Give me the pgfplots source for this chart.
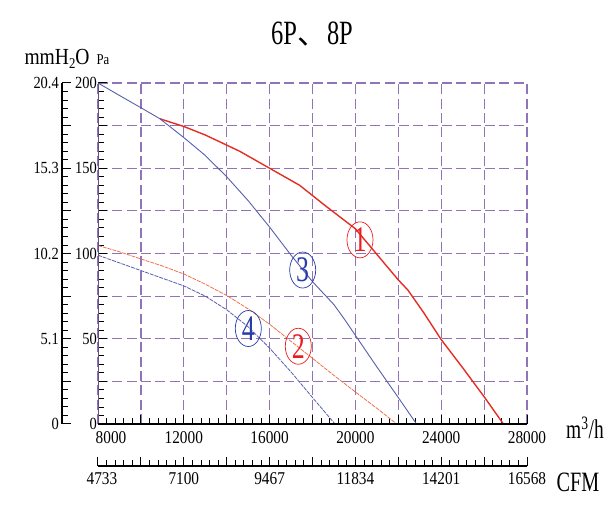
\documentclass[border=0pt]{standalone}
\usepackage{fontspec}
\setmainfont{Liberation Serif}
\newfontfamily\cnd{Liberation Serif}[FakeStretch=0.85]
\newfontfamily\cndb{Liberation Serif}[FakeStretch=0.72]
\newfontfamily\cjk{Noto Sans CJK SC}
\usepackage{pgfplots}
\pgfplotsset{compat=1.18}
\definecolor{gridpurple}{RGB}{145,115,185}
\definecolor{redA}{RGB}{228,45,35}
\definecolor{orangeB}{RGB}{238,115,75}
\definecolor{blueC}{RGB}{85,95,170}
\definecolor{lblred}{RGB}{235,30,30}
\definecolor{lblblue}{RGB}{40,60,170}
\pgfplotsset{
  mytickstyle/.style={
    tick align=inside,
    major tick length=9pt, minor tick length=6pt,
    major tick style={draw=black, line width=1pt},
    minor tick style={draw=black, line width=0.9pt},
  }
}
\begin{document}
\begin{tikzpicture}
% main axis (Pa vs m3/h)
\begin{axis}[
  at={(0pt,0pt)}, anchor=south west,
  scale only axis, width=429pt, height=341pt,
  xmin=8000, xmax=28000, ymin=0, ymax=200,
  axis line style={draw=none},
  xtick pos=left, ytick pos=left,
  xtick={8000,10000,...,28000},
  xticklabels={{\hspace*{26pt}8000},,12000,,16000,,20000,,24000,,28000},
  minor x tick num=4,
  ytick={0,25,...,200},
  yticklabels={0,,50,,100,,150,,200},
  minor y tick num=4,
  scaled x ticks=false, scaled y ticks=false,
  mytickstyle,
  grid=major,
  major grid style={gridpurple, line width=1.2pt, dash pattern=on 10pt off 4.33pt},
  xticklabel style={font=\cnd\fontsize{18}{18}\selectfont, yshift=-4pt},
  yticklabel style={font=\cnd\fontsize{17}{17}\selectfont, inner xsep=1pt},
  clip=false,
]
% curve 1
\addplot[redA, line width=1.4pt] coordinates {
(10890,179) (12000,174.5) (13000,169.5) (14600,160) (16000,150) (17400,140)
(18600,128) (20000,114.5) (21000,99.5) (22000,84.5) (22450,78.5) (23200,65)
(24000,49.5) (25000,33) (26000,16) (26900,0)};
% curve 3
\addplot[blueC, line width=0.9pt] coordinates {
(8000,200) (9000,192.7) (10000,185.5) (10890,179) (12000,168) (13000,157.5)
(14000,145) (15000,131) (16000,115.5) (17000,99) (18000,83.5) (19000,70)
(19515,61) (20000,52) (21000,33.5) (22000,15.5) (22850,0)};
% curve 2
\addplot[orangeB, line width=0.8pt, dash pattern=on 4pt off 1pt] coordinates {
(8000,104.7) (9000,101) (10000,96.8) (11000,92.7) (12000,88) (13000,82)
(14000,75.4) (15000,67.5) (16000,58.5) (17000,48.5) (18000,38.5) (19000,28.5)
(20000,18.8) (21000,9.2) (21930,0)};
% curve 4
\addplot[blueC, line width=0.8pt, dash pattern=on 4pt off 1pt] coordinates {
(8000,99) (9000,94.5) (10000,90) (11000,85.5) (12000,81) (13000,75)
(14000,67) (15000,57) (16000,44.5) (17000,30.5) (18000,15.5) (19050,0)};
% axis lines
\draw[gridpurple!70!black, line width=1pt] (rel axis cs:0,0) -- (rel axis cs:0,1);
\draw[black, line width=1.4pt] (rel axis cs:0,0) -- (rel axis cs:1,0);
% labels
\draw[lblred, line width=0.7pt] (axis cs:20214,108) ellipse [x radius=13pt, y radius=18pt];
\node[lblred, font=\cndb\fontsize{36}{36}\selectfont] at (axis cs:20214,108) {1};
\draw[lblblue, line width=0.7pt] (axis cs:17543,90.3) ellipse [x radius=13pt, y radius=18pt];
\node[lblblue, font=\cndb\fontsize{36}{36}\selectfont] at (axis cs:17543,90.3) {3};
\draw[lblblue, line width=0.7pt] (axis cs:15007,56) ellipse [x radius=13pt, y radius=18pt];
\node[lblblue, font=\cndb\fontsize{36}{36}\selectfont] at (axis cs:15007,56) {4};
\draw[lblred, line width=0.7pt] (axis cs:17338,45.6) ellipse [x radius=13pt, y radius=18pt];
\node[lblred, font=\cndb\fontsize{36}{36}\selectfont] at (axis cs:17338,45.6) {2};
\end{axis}
% mmH2O axis
\begin{axis}[
  at={(-36pt,0pt)}, anchor=south west,
  scale only axis, width=10pt, height=341pt,
  xmin=0, xmax=1, ymin=0, ymax=200,
  axis line style={draw=none},
  xtick=\empty, ytick pos=left,
  ytick={0,25,...,200},
  yticklabels={0,,5.1,,10.2,,15.3,,20.4},
  minor y tick num=4,
  scaled y ticks=false,
  mytickstyle,
  yticklabel style={font=\cnd\fontsize{17}{17}\selectfont, inner xsep=3pt},
  clip=false,
]
\addplot[draw=none] coordinates {(0,0)};
\draw[black, line width=1.4pt] (rel axis cs:0,0) -- (rel axis cs:0,1);
\end{axis}
% CFM axis
\begin{axis}[
  at={(0pt,-42pt)}, anchor=south west,
  scale only axis, width=429pt, height=10pt,
  xmin=8000, xmax=28000, ymin=0, ymax=1,
  axis line style={draw=none},
  ytick=\empty, xtick pos=left,
  xtick={8000,10000,...,28000},
  xticklabels={{\hspace*{8pt}4733},,7100,,9467,,11834,,14201,,16568},
  minor x tick num=4,
  scaled x ticks=false,
  mytickstyle,
  xticklabel style={font=\cnd\fontsize{18}{18}\selectfont, yshift=-3pt},
  clip=false,
]
\addplot[draw=none] coordinates {(8000,0)};
\draw[black, line width=1.4pt] (rel axis cs:0,0) -- (rel axis cs:1,0);
\end{axis}
% texts
\node[font=\cndb\fontsize{34}{34}\selectfont] at (214pt,390pt) {6P{\cjk\fontsize{30}{30}\selectfont 、}8P};
\node[anchor=base west, font=\cnd\fontsize{23}{23}\selectfont] at (-77pt,359pt) {mmH\raisebox{-4pt}{\fontsize{15}{15}\selectfont 2}O};
\node[anchor=base west, font=\cnd\fontsize{15}{15}\selectfont] at (-5pt,359pt) {Pa};
\node[font=\cndb\fontsize{27}{27}\selectfont] at (487pt,-4pt) {m\textsuperscript{3}/h};
\node[font=\cndb\fontsize{28}{28}\selectfont] at (480pt,-58pt) {CFM};
\path (-98pt,-100pt) rectangle (517pt,424pt);
\end{tikzpicture}
\end{document}
